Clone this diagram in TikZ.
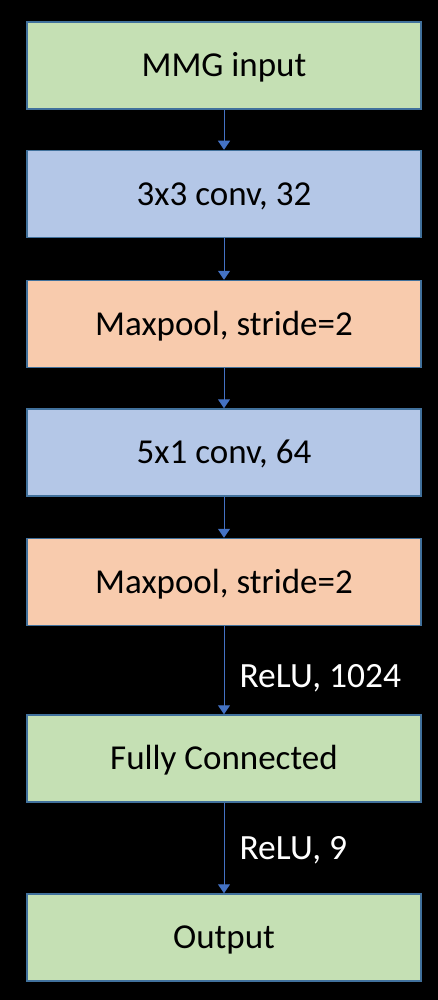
\documentclass[tikz,border=0pt]{standalone}
\usepackage{fontspec}
\setmainfont{Carlito}
\usetikzlibrary{arrows.meta}

\definecolor{boxgreen}{HTML}{C5E0B4}
\definecolor{boxblue}{HTML}{B4C7E7}
\definecolor{boxorange}{HTML}{F8CBAD}
\definecolor{boxedge}{HTML}{41719C}
\definecolor{arrowblue}{HTML}{4472C4}

\tikzset{
    layer/.style={draw=boxedge, line width=1.5pt, minimum width=394pt, minimum height=87pt,
        inner sep=0pt, text height=22.5pt, text depth=0pt, font=\fontsize{35}{40}\selectfont},
    flow/.style={->, >={Triangle[width=12pt,length=9pt]}, draw=arrowblue, fill=arrowblue, line width=1pt},
    act/.style={anchor=west, text=white, font=\fontsize{35.5}{40}\selectfont}
}

\begin{document}
\begin{tikzpicture}[x=1pt, y=-1pt]
    \fill[black] (0,0) rectangle (438,1000);
    \useasboundingbox (0,0) rectangle (438,1000);

    \node[layer, fill=boxgreen] (in) at (224, 65.5) {MMG input};
    \node[layer, fill=boxblue] (conv1) at (224, 194) {3x3 conv, 32};
    \node[layer, fill=boxorange] (pool1) at (224, 324) {Maxpool, stride=2};
    \node[layer, fill=boxblue] (conv2) at (224, 452.5) {5x1 conv, 64};
    \node[layer, fill=boxorange] (pool2) at (224, 582) {Maxpool, stride=2};
    \node[layer, fill=boxgreen] (fc) at (224, 758.5) {Fully Connected};
    \node[layer, fill=boxgreen] (out) at (224, 937.5) {Output};

    \node[act] (relu1) at (236, 678) {ReLU, 1024};
    \node[act] (relu2) at (236, 850) {ReLU, 9};

    \draw[flow] (in) -- (conv1);
    \draw[flow] (conv1) -- (pool1);
    \draw[flow] (pool1) -- (conv2);
    \draw[flow] (conv2) -- (pool2);
    \draw[flow] (pool2) -- (fc);
    \draw[flow] (fc) -- (out);

\end{tikzpicture}
\end{document}
